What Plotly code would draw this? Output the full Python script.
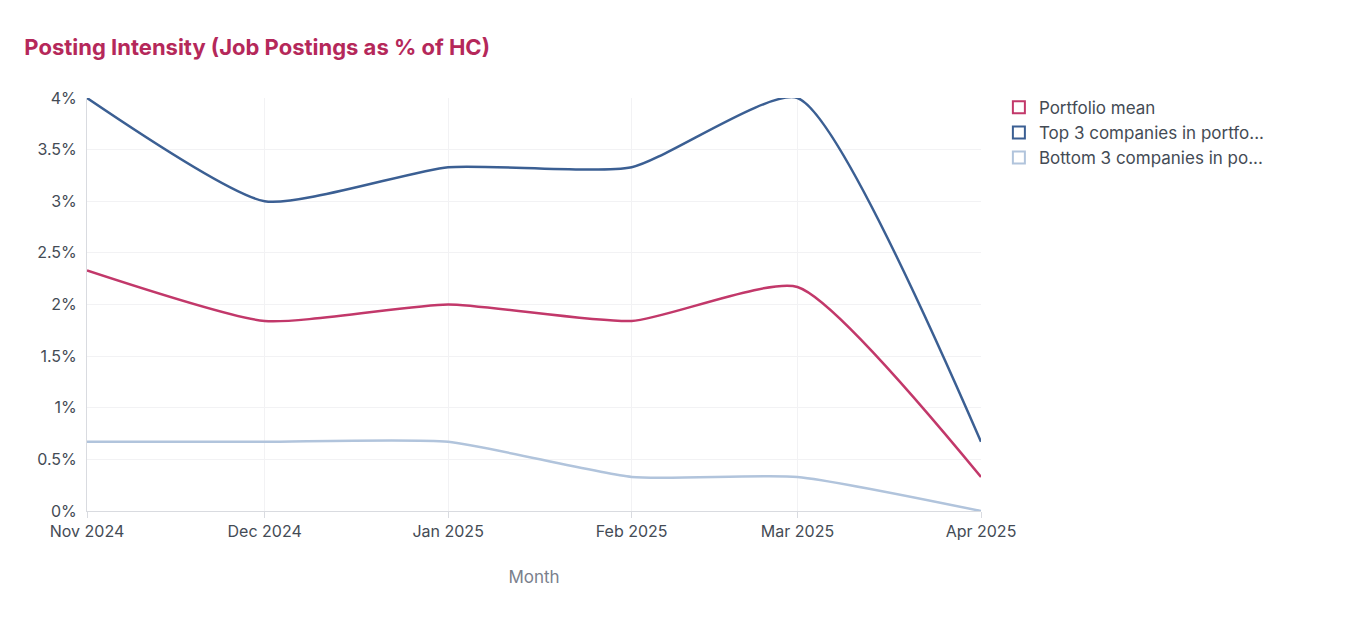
import plotly.graph_objects as go

months = ["2024-11-01", "2024-12-01", "2025-01-01", "2025-02-01", "2025-03-01", "2025-04-01"]
tick_labels = ["Nov 2024", "Dec 2024", "Jan 2025", "Feb 2025", "Mar 2025", "Apr 2025"]
portfolio_mean = [2.33, 1.84, 2.0, 1.84, 2.17, 0.33]
top3 = [4.0, 3.0, 3.33, 3.33, 4.0, 0.67]
bottom3 = [0.67, 0.67, 0.67, 0.33, 0.33, 0.0]

series = [
    ("Portfolio mean", portfolio_mean, "#c2386a"),
    ("Top 3 companies in portfo...", top3, "#3b5f93"),
    ("Bottom 3 companies in po...", bottom3, "#b1c4dc"),
]

fig = go.Figure()
for name, vals, col in series:
    fig.add_trace(go.Scatter(x=months, y=vals, mode="lines", line=dict(color=col, width=2.5, shape="spline", smoothing=0.55),
                             showlegend=False, cliponaxis=False,
                             hovertemplate="%{y:.2f}%<extra>" + name + "</extra>"))
    # legend entry with square outline
    fig.add_trace(go.Scatter(x=[None], y=[None], mode="markers", name=name,
                             marker=dict(symbol="square-open", size=14, color=col, line=dict(width=2.5, color=col))))

fig.update_layout(
    width=1364, height=626,
    paper_bgcolor="white", plot_bgcolor="white",
    margin=dict(l=79, r=391, t=90, b=123),
    font=dict(family="Inter, Roboto, sans-serif", size=16, color="#444b55"),
    title=dict(text="<b>Posting Intensity (Job Postings as % of HC)</b>", x=0.012, xanchor="left", y=0.938,
               yanchor="middle", font=dict(size=22, color="#b5285a")),
    legend=dict(x=1.02, y=1.02, xanchor="left", yanchor="top", font=dict(size=17, color="#444b55"),
                itemsizing="constant", tracegroupgap=0),
    xaxis=dict(type="date", tickvals=months, ticktext=tick_labels, showgrid=True, gridcolor="#f2f2f4",
               showline=True, linecolor="#d9dbe0", ticks="outside", ticklen=6, tickcolor="#d9dbe0",
               range=["2024-11-01", "2025-04-01"],
               title=dict(text="Month", font=dict(size=17, color="#7a808c"), standoff=30)),
    yaxis=dict(range=[0, 4.0], tickvals=[0, 0.5, 1, 1.5, 2, 2.5, 3, 3.5, 4],
               ticktext=["0%", "0.5%", "1%", "1.5%", "2%", "2.5%", "3%", "3.5%", "4%"],
               showgrid=True, gridcolor="#f2f2f4", zeroline=False, showline=True, linecolor="#d9dbe0",
               ticks="", ticklabelstandoff=6),
)

fig.write_html("out.html")
